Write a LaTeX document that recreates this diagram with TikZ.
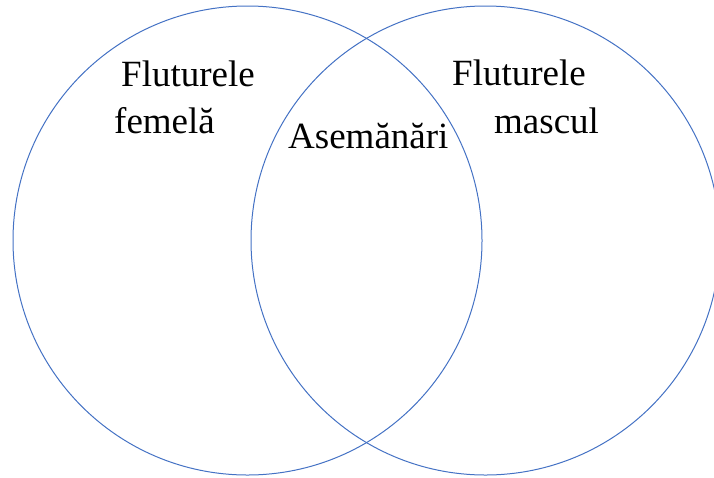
\documentclass[tikz,border=0pt]{standalone}
\usepackage{fontspec}
\setmainfont{Liberation Serif}
\definecolor{vennblue}{HTML}{4472C4}
\begin{document}
\begin{tikzpicture}[x=1pt,y=-1pt,
  venn/.style={draw=vennblue,line width=1pt},
  lbl/.style={anchor=base west,inner sep=0pt,font=\fontsize{37}{41}\selectfont}]
\useasboundingbox (0,0) rectangle (714,477);
\node[venn,circle,minimum size=469pt,inner sep=0pt] (left) at (247.5,240.5) {};
\node[venn,circle,minimum size=469pt,inner sep=0pt] (right) at (485.5,240.5) {};
\node[lbl] (t1) at (121,86) {Fluturele};
\node[lbl] (t2) at (114,133) {femelă};
\node[lbl] (t3) at (288,148) {Asemănări};
\node[lbl] (t4) at (452,85) {Fluturele};
\node[lbl] (t5) at (494,133) {mascul};
\end{tikzpicture}
\end{document}
